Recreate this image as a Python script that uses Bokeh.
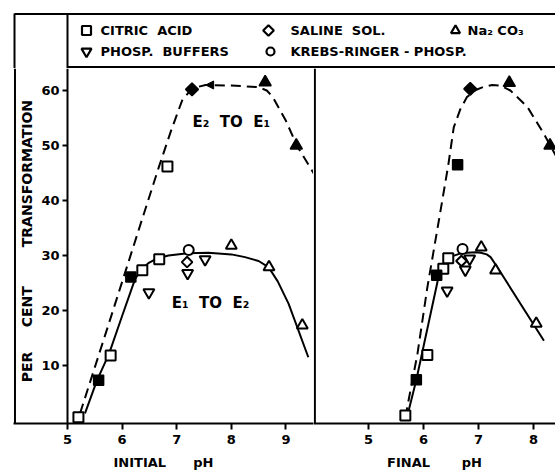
from bokeh.plotting import figure
from bokeh.layouts import column, row
from bokeh.models import Range1d, FixedTicker, Span, Arrow, NormalHead
from bokeh.core.properties import value
from bokeh.embed import file_html
from bokeh.resources import INLINE

FONT = "DejaVu Sans"
NB = "\u00a0"

# ---------------- data ----------------
legend_labels = ["CITRIC" + NB * 2 + "ACID", "PHOSP." + NB * 2 + "BUFFERS", "SALINE" + NB * 2 + "SOL.",
                 "KREBS-RINGER" + NB + "-" + NB + "PHOSP.", "Na₂" + NB + "CO₃"]
legend_markers = ["square", "inverted_triangle", "square", "circle", "triangle"]

y_ticks = [10, 20, 30, 40, 50, 60]
x_ticks_initial = [5, 6, 7, 8, 9]
x_ticks_final = [5, 6, 7, 8]

# INITIAL pH panel -- open symbols: E1 to E2, filled symbols: E2 to E1
init_citric_open_x = [5.2, 5.79, 6.37, 6.68, 6.83]
init_citric_open_y = [0.6, 11.8, 27.3, 29.3, 46.2]
init_citric_fill_x = [5.57, 6.16]
init_citric_fill_y = [7.3, 26.1]
init_phosp_x = [6.49, 7.2, 7.52]
init_phosp_y = [23.3, 26.8, 29.3]
init_saline_open_x = [7.19]
init_saline_open_y = [28.8]
init_saline_fill_x = [7.28]
init_saline_fill_y = [60.2]
init_krebs_x = [7.22]
init_krebs_y = [31.0]
init_na2co3_open_x = [8.0, 8.69, 9.3]
init_na2co3_open_y = [31.8, 27.9, 17.3]
init_na2co3_fill_x = [8.62, 9.19]
init_na2co3_fill_y = [61.5, 50.0]

init_e1e2_x = [5.32, 5.54, 5.76, 6.0, 6.24, 6.36, 6.48, 6.65, 6.85, 7.2, 7.58, 8.0, 8.25, 8.5, 8.68, 8.85, 9.05, 9.41]
init_e1e2_y = [1.3, 7.3, 12.1, 19.0, 25.8, 27.5, 28.6, 29.5, 30.0, 30.4, 30.5, 30.2, 29.7, 29.0, 27.9, 25.3, 21.2, 11.5]
init_e2e1_x = [5.23, 5.75, 6.36, 6.68, 6.9, 7.1, 7.28, 7.53, 8.0, 8.5, 8.65, 8.76, 9.0, 9.2, 9.51]
init_e2e1_y = [1.3, 17.4, 36.4, 46.3, 52.8, 58.2, 60.4, 61.0, 60.9, 60.6, 60.0, 58.8, 54.5, 50.0, 44.9]

# FINAL pH panel
fin_citric_open_x = [5.67, 6.07, 6.36, 6.45]
fin_citric_open_y = [0.9, 11.9, 27.6, 29.5]
fin_citric_fill_x = [5.87, 6.24, 6.62]
fin_citric_fill_y = [7.4, 26.4, 46.5]
fin_phosp_x = [6.43, 6.76, 6.84]
fin_phosp_y = [23.6, 27.4, 29.4]
fin_saline_open_x = [6.69]
fin_saline_open_y = [29.0]
fin_saline_fill_x = [6.85]
fin_saline_fill_y = [60.3]
fin_krebs_x = [6.71]
fin_krebs_y = [31.2]
fin_na2co3_open_x = [7.05, 7.31, 8.05]
fin_na2co3_open_y = [31.5, 27.3, 17.6]
fin_na2co3_fill_x = [7.56, 8.30]
fin_na2co3_fill_y = [61.4, 50.0]

fin_e1e2_x = [5.70, 5.87, 6.28, 6.37, 6.5, 6.65, 6.79, 6.95, 7.04, 7.15, 7.22, 7.34, 8.19]
fin_e1e2_y = [0.6, 7.4, 26.4, 28.4, 29.8, 30.3, 30.5, 30.6, 30.5, 30.2, 29.7, 27.9, 14.5]
fin_e2e1_x = [5.67, 5.89, 6.07, 6.28, 6.45, 6.55, 6.67, 6.79, 6.95, 7.10, 7.25, 7.40, 7.58, 7.89, 8.19, 8.42]
fin_e2e1_y = [0.6, 12.1, 24.2, 36.4, 46.4, 53.3, 56.6, 58.8, 60.1, 60.7, 61.0, 60.9, 60.0, 57.0, 52.1, 47.9]

DIAMOND_ANGLE = 0.7854  # diamonds drawn as squares turned by 45 degrees


# ---------------- helpers ----------------
def style_fig(p):
    p.grid.visible = False
    p.background_fill_color = "white"
    p.border_fill_color = "white"
    p.outline_line_color = None


def style_axis(ax, ticks):
    ax.ticker = FixedTicker(ticks=ticks)
    ax.axis_line_width = 2
    ax.axis_line_color = "black"
    ax.major_tick_line_width = 2
    ax.major_tick_line_color = "black"
    ax.major_tick_in = 0
    ax.major_tick_out = 6
    ax.minor_tick_line_color = None
    ax.major_label_text_font = FONT
    ax.major_label_text_font_style = "bold"
    ax.major_label_text_font_size = "13px"
    ax.major_label_text_color = "black"
    ax.axis_label_text_font = FONT
    ax.axis_label_text_font_style = "bold"
    ax.axis_label_text_font_size = "13px"
    ax.axis_label_text_color = "black"


def draw_panel(p, d):
    p.line(d["e2e1_x"], d["e2e1_y"], line_color="black", line_width=2, line_dash="10 6")
    p.line(d["e1e2_x"], d["e1e2_y"], line_color="black", line_width=2)
    kw_open = dict(fill_color="white", line_color="black", line_width=2)
    kw_fill = dict(fill_color="black", line_color="black", line_width=1.5)
    p.scatter(d["cit_o_x"], d["cit_o_y"], marker="square", size=10, **kw_open)
    p.scatter(d["cit_f_x"], d["cit_f_y"], marker="square", size=10, **kw_fill)
    p.scatter(d["pho_x"], d["pho_y"], marker="inverted_triangle", size=11, **kw_open)
    p.scatter(d["sal_o_x"], d["sal_o_y"], marker="square", angle=DIAMOND_ANGLE, size=7.5, **kw_open)
    p.scatter(d["sal_f_x"], d["sal_f_y"], marker="square", angle=DIAMOND_ANGLE, size=9, **kw_fill)
    p.scatter(d["kre_x"], d["kre_y"], marker="circle", size=10, **kw_open)
    p.scatter(d["na_o_x"], d["na_o_y"], marker="triangle", size=11, **kw_open)
    p.scatter(d["na_f_x"], d["na_f_y"], marker="triangle", size=12, **kw_fill)


y_range = Range1d(-0.55, 64.0)

# ---------------- legend strip ----------------
top = figure(width=555, height=68, x_range=Range1d(0, 555), y_range=Range1d(68, 0),
             x_axis_type=None, y_axis_type=None, min_border=0,
             output_backend="svg", toolbar_location=None)
style_fig(top)
top.segment(x0=[14, 14, 67, 67], y0=[13.5, 13, 13, 66.5], x1=[555, 14, 67, 555], y1=[13.5, 68, 68, 66.5],
            line_color="black", line_width=2)
lx = [86, 86, 268, 270, 455]
ly = [30, 51, 30, 51, 30]
top.scatter(lx, ly, marker=legend_markers, size=[9, 10, 7.5, 8, 9],
            angle=[0, 0, DIAMOND_ANGLE, 0, 0], fill_color="white",
            line_color="black", line_width=2.2)
top.text([x + 14 for x in lx[:2]] + [290, 290, 467], ly, text=legend_labels,
         text_font=value(FONT), text_font_style="bold", text_font_size="13px",
         text_baseline="middle", text_align="left", text_color="black")

# ---------------- INITIAL pH panel ----------------
left = figure(width=313, height=406, x_range=Range1d(4.011, 9.505), y_range=y_range,
              min_border_left=13, min_border_right=0, min_border_top=0, min_border_bottom=51,
              output_backend="svg", toolbar_location=None)
style_fig(left)
style_axis(left.xaxis[0], x_ticks_initial)
style_axis(left.yaxis[0], y_ticks)
left.xaxis[0].axis_label = "INITIAL" + NB * 6 + "pH"
left.xaxis[0].major_label_standoff = 5
left.xaxis[0].axis_label_standoff = 8
left.yaxis[0].fixed_location = 5
left.yaxis[0].major_tick_out = 5
left.yaxis[0].major_label_standoff = 3
left.yaxis[0].axis_label = NB * 2 + "PER" + NB * 5 + "CENT" + NB * 8 + "TRANSFORMATION"
left.yaxis[0].axis_label_text_font_size = "14px"
left.yaxis[0].axis_label_standoff = 3
left.add_layout(Span(location=4.038, dimension="height", line_color="black", line_width=2))

draw_panel(left, dict(
    e2e1_x=init_e2e1_x, e2e1_y=init_e2e1_y, e1e2_x=init_e1e2_x, e1e2_y=init_e1e2_y,
    cit_o_x=init_citric_open_x, cit_o_y=init_citric_open_y,
    cit_f_x=init_citric_fill_x, cit_f_y=init_citric_fill_y,
    pho_x=init_phosp_x, pho_y=init_phosp_y,
    sal_o_x=init_saline_open_x, sal_o_y=init_saline_open_y,
    sal_f_x=init_saline_fill_x, sal_f_y=init_saline_fill_y,
    kre_x=init_krebs_x, kre_y=init_krebs_y,
    na_o_x=init_na2co3_open_x, na_o_y=init_na2co3_open_y,
    na_f_x=init_na2co3_fill_x, na_f_y=init_na2co3_fill_y))
left.add_layout(Arrow(end=NormalHead(size=8, fill_color="black", line_color="black", line_width=1),
                      x_start=init_e2e1_x[8], y_start=init_e2e1_y[7],
                      x_end=init_e2e1_x[7], y_end=init_e2e1_y[7], line_alpha=0))
left.text([8.0, 7.62], [54.2, 21.3], text=["E₂" + NB * 2 + "TO" + NB * 2 + "E₁", "E₁" + NB * 2 + "TO" + NB * 2 + "E₂"],
          text_font=value(FONT), text_font_style="bold", text_font_size="15px",
          text_align="center", text_baseline="middle", text_color="black")

# ---------------- FINAL pH panel ----------------
right = figure(width=242, height=406, x_range=Range1d(4.0, 8.4), y_range=y_range,
               y_axis_location=None,
               min_border_left=0, min_border_right=0, min_border_top=0, min_border_bottom=51,
               output_backend="svg", toolbar_location=None)
style_fig(right)
style_axis(right.xaxis[0], x_ticks_final)
right.xaxis[0].axis_label = "FINAL" + NB * 7 + "pH"
right.xaxis[0].major_label_standoff = 5
right.xaxis[0].axis_label_standoff = 8
right.add_layout(Span(location=4.025, dimension="height", line_color="black", line_width=2))

draw_panel(right, dict(
    e2e1_x=fin_e2e1_x, e2e1_y=fin_e2e1_y, e1e2_x=fin_e1e2_x, e1e2_y=fin_e1e2_y,
    cit_o_x=fin_citric_open_x, cit_o_y=fin_citric_open_y,
    cit_f_x=fin_citric_fill_x, cit_f_y=fin_citric_fill_y,
    pho_x=fin_phosp_x, pho_y=fin_phosp_y,
    sal_o_x=fin_saline_open_x, sal_o_y=fin_saline_open_y,
    sal_f_x=fin_saline_fill_x, sal_f_y=fin_saline_fill_y,
    kre_x=fin_krebs_x, kre_y=fin_krebs_y,
    na_o_x=fin_na2co3_open_x, na_o_y=fin_na2co3_open_y,
    na_f_x=fin_na2co3_fill_x, na_f_y=fin_na2co3_fill_y))

layout = column(top, row(left, right))
open("out.html", "w").write(file_html(layout, INLINE))
